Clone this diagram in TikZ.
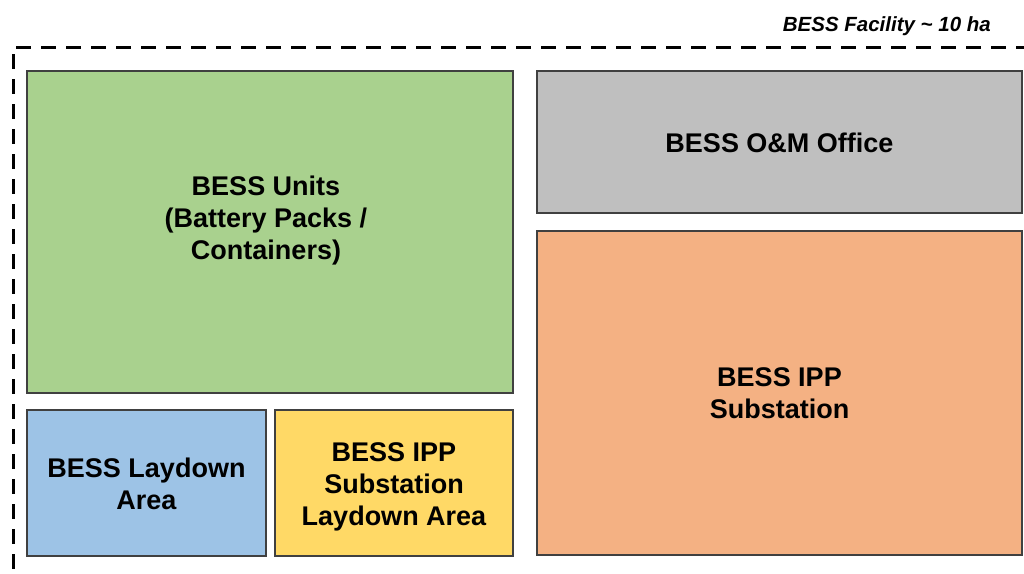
\documentclass[tikz,border=0pt]{standalone}
\usepackage{fontspec}
\setmainfont{Liberation Sans}
\definecolor{edgec}{HTML}{404040}
\definecolor{greenf}{HTML}{A9D18E}
\definecolor{grayf}{HTML}{BFBFBF}
\definecolor{orangef}{HTML}{F4B183}
\definecolor{bluef}{HTML}{9DC3E6}
\definecolor{yellowf}{HTML}{FFD966}
\tikzset{
  area/.style={draw=edgec, line width=1.8pt},
  lbl/.style={align=center, font=\fontsize{27}{32}\selectfont\bfseries, inner sep=0pt},
  fence/.style={line width=3pt, dash pattern=on 15pt off 10pt},
}
\begin{document}
\begin{tikzpicture}[x=1pt,y=-1pt]
\useasboundingbox (0,0) rectangle (1024,573);
\clip (0,0) rectangle (1024,573);
% facility fence
\coordinate (fc) at (13,47);
\coordinate (fr) at (1040,47);
\coordinate (fb) at (13,590);
\draw[fence, dash phase=22pt] (fc) -- (fr);
\draw[fence, dash phase=18pt] (fc) -- (fb);
\node[anchor=base east, inner sep=0pt, font=\fontsize{20.5}{24}\selectfont\bfseries\itshape] (title) at (991,31) {BESS Facility \textasciitilde{} 10 ha};
% areas
\draw[area, fill=greenf] (27,71) rectangle (513,393);
\draw[area, fill=grayf] (537,71) rectangle (1022,213);
\draw[area, fill=orangef] (537,231) rectangle (1022,555);
\draw[area, fill=bluef] (27,410) rectangle (266,556);
\draw[area, fill=yellowf] (275,410) rectangle (513,556);
% labels
\node[lbl] (units) at (266,221) {BESS Units\\(Battery Packs /\\Containers)};
\node[lbl] (office) at (779.5,143) {BESS O\&M Office};
\node[lbl] (sub) at (779.5,393) {BESS IPP\\Substation};
\node[lbl] (lay) at (146.5,484) {BESS Laydown\\Area};
\node[lbl] (sublay) at (394,487) {BESS IPP\\Substation\\Laydown Area};
\end{tikzpicture}
\end{document}
